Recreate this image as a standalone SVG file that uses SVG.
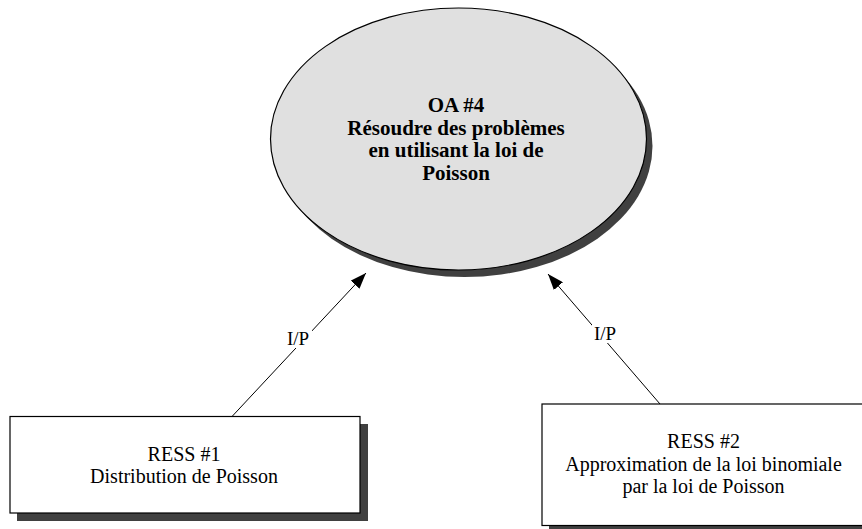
<svg xmlns="http://www.w3.org/2000/svg" width="862" height="529" viewBox="0 0 862 529">
  <defs>
    <marker id="arrow" viewBox="0 0 16 12" refX="16" refY="6" markerWidth="16" markerHeight="12" markerUnits="userSpaceOnUse" orient="auto">
      <path d="M0,0 L16,6 L0,12 Z" fill="#000"/>
    </marker>
    <style>
      .shadow { fill: #404040; stroke: none; }
      .box { fill: #ffffff; stroke: #000; stroke-width: 1.2; }
      .oval { fill: #e0e0e0; stroke: #000; stroke-width: 1.2; }
      .title { font-family: "Liberation Serif", "Times New Roman", serif; font-weight: bold; font-size: 21px; text-anchor: middle; fill: #000; }
      .label { font-family: "Liberation Serif", "Times New Roman", serif; font-size: 20px; text-anchor: middle; fill: #000; }
      .edge { stroke: #000; stroke-width: 1; fill: none; }
      .edge-label { font-family: "Liberation Serif", "Times New Roman", serif; font-size: 19px; text-anchor: middle; fill: #000; }
    </style>
  </defs>
  <rect width="862" height="529" fill="#ffffff"/>

  <g id="oa4">
    <ellipse class="shadow" cx="464.5" cy="146" rx="188" ry="131"/>
    <ellipse class="oval" cx="458.5" cy="139" rx="188" ry="131"/>
    <text class="title" x="456" y="112">OA #4</text>
    <text class="title" x="456" y="134.5">Résoudre des problèmes</text>
    <text class="title" x="456" y="157">en utilisant la loi de</text>
    <text class="title" x="456" y="179.5">Poisson</text>
  </g>

  <g id="ress1">
    <rect class="shadow" x="17" y="424" width="351" height="97"/>
    <rect class="box" x="10" y="416.5" width="350" height="96.5"/>
    <text class="label" x="184" y="461">RESS #1</text>
    <text class="label" x="184" y="483">Distribution de Poisson</text>
  </g>

  <g id="ress2">
    <rect class="shadow" x="549" y="411" width="330" height="125"/>
    <rect class="box" x="542" y="404" width="330" height="121.5"/>
    <text class="label" x="703.5" y="448">RESS #2</text>
    <text class="label" x="703.5" y="470.5">Approximation de la loi binomiale</text>
    <text class="label" x="703.5" y="493">par la loi de Poisson</text>
  </g>

  <g id="connectors">
    <line class="edge" x1="232" y1="416.5" x2="366" y2="273" marker-end="url(#arrow)"/>
    <rect x="285" y="326" width="27" height="22" fill="#ffffff"/>
    <text class="edge-label" x="298" y="345">I/P</text>
    <line class="edge" x1="660" y1="404" x2="548" y2="274" marker-end="url(#arrow)"/>
    <rect x="592" y="321" width="27" height="22" fill="#ffffff"/>
    <text class="edge-label" x="605" y="340">I/P</text>
  </g>
</svg>
